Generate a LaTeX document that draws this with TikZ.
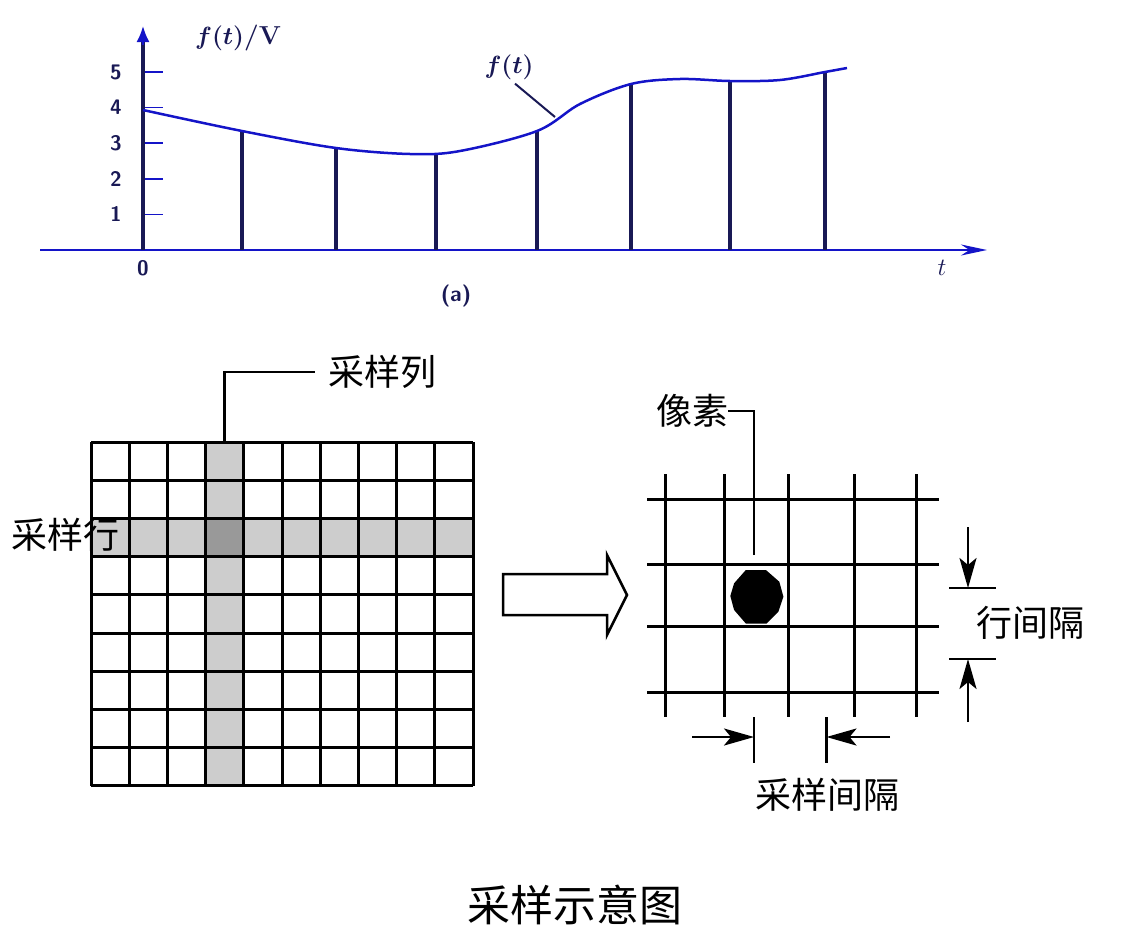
\documentclass[tikz,border=0pt]{standalone}
\usepackage{fontspec}
\newfontfamily\cjk{Noto Sans CJK SC}
\usetikzlibrary{arrows.meta}
\definecolor{axisblue}{RGB}{20,20,200}
\definecolor{navy}{RGB}{25,25,85}
\definecolor{rowgray}{RGB}{205,205,205}
\definecolor{hitgray}{RGB}{153,153,153}
\begin{document}
\begin{tikzpicture}[x=1pt,y=-1pt,
    stem/.style={navy,line width=4pt},
    tickmark/.style={axisblue,line width=1.5pt},
    numlbl/.style={navy,font=\fontsize{21}{21}\selectfont\sffamily\bfseries,inner sep=0pt},
    gridline/.style={black,line width=3pt},
    cjklabel/.style={font=\fontsize{36}{38}\selectfont\cjk,inner sep=0pt},
    dimarrow/.style={line width=2.5pt,-{Stealth[length=30pt,width=17pt,inset=7pt]}}]
    \useasboundingbox (0,0) rectangle (1132,951);
    
    % (a) sampled signal
    \coordinate (O) at (143,250);
    \coordinate (ytip) at (143,26);
    \coordinate (xstart) at (40,250);
    \coordinate (xtip) at (987,250);
    \draw[axisblue,line width=2pt,-{Stealth[length=26pt,width=11pt]}] (xstart) -- (xtip);
    \foreach \v in {1,...,5}{
        \draw[tickmark] (143,250-35.6*\v) -- ++(20,0);
        \node[numlbl] (n\v) at (116,250-35.6*\v) {\v};
    }
    \foreach \x/\y in {242/131,336/148,436/153,537/131,631/83,730/81,825/72}
        \draw[stem] (\x,250) -- (\x,\y);
    \draw[navy,line width=3.5pt] (O) -- (143,40);
    \draw[axisblue,line width=2pt,-{Latex[length=16pt,width=13pt]}] (143,45) -- (ytip);
    \draw[axisblue,line width=2.5pt] plot[smooth,tension=0.55] coordinates
        {(143,110) (242,131) (336,148) (410,154) (460,151) (537,131) (580,104) (631,84) (680,79) (730,81) (780,80) (825,72) (847,68)};
    \node[numlbl] (n0) at (143,268) {0};
    \node[navy,font=\fontsize{26}{26}\selectfont\boldmath,inner sep=0pt] (ylbl) at (238,38) {$f(t)$\textbf{/V}};
    \node[navy,font=\fontsize{26}{26}\selectfont\boldmath,inner sep=0pt] (ftLbl) at (509,67) {$f(t)$};
    \coordinate (ftPt) at (555,117);
    \draw[navy,line width=2pt] ([xshift=6pt,yshift=-4pt]ftLbl.south) -- (ftPt);
    \node[navy,font=\fontsize{24}{24}\selectfont,inner sep=0pt] (tlbl) at (942,268) {$t$};
    \node[numlbl,font=\fontsize{22}{22}\selectfont\sffamily\bfseries] (alab) at (456,296) {(a)};
    
    % sampling grid
    \fill[rowgray] (205.6,442) rectangle (243.8,786);
    \fill[rowgray] (91,518.4) rectangle (473,556.7);
    \fill[hitgray] (205.6,518.4) rectangle (243.8,556.7);
    \foreach \i in {0,...,10}
        \draw[gridline] (91+38.2*\i,442) -- (91+38.2*\i,786);
    \foreach \j in {0,...,9}
        \draw[gridline] (91,442+38.22*\j) -- (473,442+38.22*\j);
    \coordinate (colTop) at (224.7,442);
    \node[cjklabel] (colLbl) at (382,372) {采样列};
    \draw[line width=2.5pt] (colTop) |- ([xshift=-13pt]colLbl.west);
    \node[cjklabel] (rowLbl) at (65,535) {采样行};
    
    % hollow arrow
    \draw[line width=2.5pt] (503,574) -- (607,574) -- (607,555) -- (627,595)
        -- (607,635) -- (607,615) -- (503,615) -- cycle;
    
    % pixel lattice
    \foreach \x in {665,724,788,854,916}
        \draw[gridline] (\x,474) -- (\x,717);
    \foreach \y in {499,564,626,692}
        \draw[gridline] (647,\y) -- (939,\y);
    \fill (745.8,570) -- (765.9,570) -- (779.3,581.7) -- (783.4,596.7) -- (778.4,611.7)
        -- (766.7,623.5) -- (745.8,623.5) -- (734.1,610) -- (730.3,596) -- (734.1,583.3) -- cycle;
    \coordinate (pixTop) at (754,555);
    \node[cjklabel] (pixLbl) at (692,411) {像素};
    \draw[line width=2.5pt] (pixTop) |- (pixLbl.east);
    
    % row spacing
    \coordinate (rbarA) at (949,588);
    \coordinate (rbarB) at (949,659);
    \draw[line width=2.5pt] (rbarA) -- ++(47,0);
    \draw[line width=2.5pt] (rbarB) -- ++(47,0);
    \draw[dimarrow] (968,527) -- (968,588);
    \draw[dimarrow] (968,722) -- (968,659);
    \node[cjklabel] (rowGap) at (1030,623) {行间隔};
    
    % sample spacing
    \draw[line width=2.5pt] (754,717) -- (754,763);
    \draw[line width=2.5pt] (826.5,717) -- (826.5,763);
    \draw[dimarrow] (692,737) -- (754,737);
    \draw[dimarrow] (890,737) -- (826.5,737);
    \node[cjklabel] (colGap) at (827,795) {采样间隔};
    
    \node[font=\fontsize{43}{45}\selectfont\cjk,inner sep=0pt] (caption) at (575,905) {采样示意图};
\end{tikzpicture}
\end{document}
